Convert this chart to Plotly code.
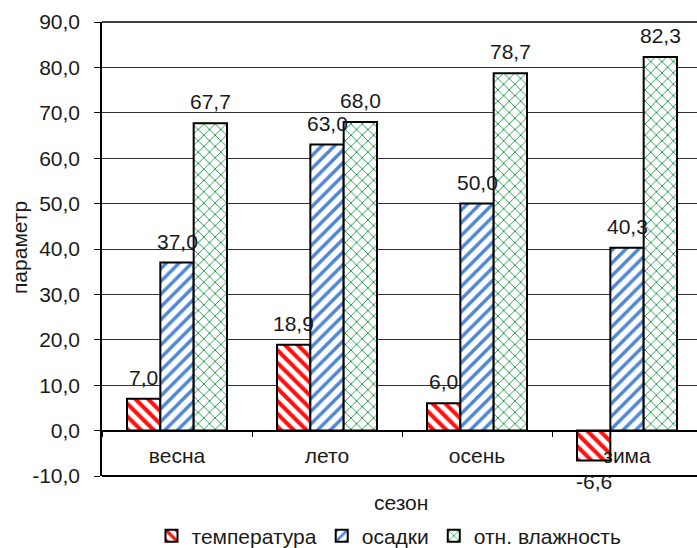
import plotly.graph_objects as go

# Seasonal climate parameters
seasons = ["весна", "лето", "осень", "зима"]
temperature = [7.0, 18.9, 6.0, -6.6]
precipitation = [37.0, 63.0, 50.0, 40.3]
humidity = [67.7, 68.0, 78.7, 82.3]

series_names = ["температура", "осадки", "отн. влажность"]
y_ticks = [-10, 0, 10, 20, 30, 40, 50, 60, 70, 80, 90]
y_tick_text = [f"{t:.1f}".replace(".", ",") for t in y_ticks]

FONT = "Liberation Sans, Arial, sans-serif"
TXT = "#1a1a1a"
FS = 21

styles = [
    dict(shape="\\", fg="#ff1010", size=9, solidity=0.45),
    dict(shape="/", fg="#4f86d6", size=9, solidity=0.38),
    dict(shape="x", fg="#1f9a4a", size=8, solidity=0.22),
]

fig = go.Figure()
for name, vals, st in zip(series_names, [temperature, precipitation, humidity], styles):
    fig.add_trace(go.Bar(
        name=name, x=seasons, y=vals,
        marker=dict(
            color="white",
            line=dict(color="black", width=2),
            pattern=dict(shape=st["shape"], fgcolor=st["fg"], bgcolor="white",
                         size=st["size"], solidity=st["solidity"],
                         fillmode="replace", fgopacity=1),
        ),
        cliponaxis=False,
    ))

# value labels above (or below for negatives) each bar
bar_px = 100 / 3
offsets = [-bar_px, 0, bar_px]
for vals, dx in zip([temperature, precipitation, humidity], offsets):
    for s, v in zip(seasons, vals):
        fig.add_annotation(
            x=s, y=v, xref="x", yref="y", xshift=dx,
            yshift=8 if v >= 0 else -7,
            yanchor="bottom" if v >= 0 else "top",
            text=f"{v:.1f}".replace(".", ","), showarrow=False,
            font=dict(family=FONT, size=FS, color=TXT),
        )

# axis titles
fig.add_annotation(text="параметр", xref="paper", yref="paper", x=(19 - 102) / 595,
                   y=(476 - 248) / 454, xanchor="center", yanchor="middle",
                   textangle=-90, showarrow=False,
                   font=dict(family=FONT, size=FS, color=TXT))
fig.add_annotation(text="сезон", xref="paper", yref="paper", x=(401 - 102) / 595,
                   y=(476 - 503) / 454, xanchor="center", yanchor="middle",
                   showarrow=False,
                   font=dict(family=FONT, size=FS, color=TXT))

# frame lines: top and bottom of plot area
for yy in (0, 1):
    fig.add_shape(type="line", xref="paper", yref="paper", x0=0, x1=1.02, y0=yy, y1=yy,
                  line=dict(color="black", width=2 if yy == 0 else 1.5))

fig.update_layout(
    width=697, height=548,
    margin=dict(l=102, r=0, t=22, b=72, autoexpand=False),
    paper_bgcolor="white", plot_bgcolor="white",
    barmode="group", bargap=1 / 3, bargroupgap=0,
    font=dict(family=FONT, size=FS, color=TXT),
    showlegend=True,
    legend=dict(orientation="h", x=389 / 697, xanchor="center", xref="container",
                y=(548 - 536) / 548, yanchor="middle", yref="container",
                font=dict(family=FONT, size=FS, color=TXT),
                itemwidth=30, tracegroupgap=0),
    xaxis=dict(
        type="category", range=[-0.5, 3.5 - 5 / 150],
        anchor="free", position=0.1,
        showline=True, linecolor="black", linewidth=1.5,
        ticks="outside", tickson="boundaries", ticklen=6, tickcolor="black",
        ticklabelstandoff=6,
        showgrid=False, zeroline=False,
        tickfont=dict(family=FONT, size=FS, color=TXT),
    ),
    yaxis=dict(
        range=[-10, 90], tickmode="array", tickvals=y_ticks, ticktext=y_tick_text,
        showline=True, linecolor="black", linewidth=1.5,
        ticks="outside", ticklen=6, tickcolor="black",
        ticklabelstandoff=10,
        showgrid=True, gridcolor="#333333", gridwidth=1,
        zeroline=False,
        tickfont=dict(family=FONT, size=FS, color=TXT),
    ),
)

fig.write_html("out.html")
